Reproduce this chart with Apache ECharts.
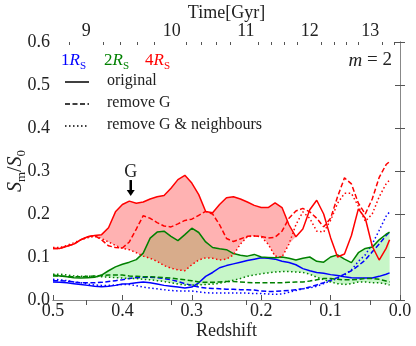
<!DOCTYPE html>
<html>
<head>
<meta charset="utf-8">
<script src="https://cdn.jsdelivr.net/npm/echarts@6/dist/echarts.min.js"></script>
<style>
html, body { margin: 0; padding: 0; background: #fff; }
#chart { width: 416px; height: 346px; }
</style>
</head>
<body>
<div id="chart"></div>
<script>
// redshift grid shared by every curve
const redshift = [0.50, 0.49, 0.48, 0.47, 0.46, 0.45, 0.44, 0.43, 0.42, 0.41,
  0.40, 0.39, 0.38, 0.37, 0.36, 0.35, 0.34, 0.33, 0.32, 0.31,
  0.30, 0.29, 0.28, 0.27, 0.26, 0.25, 0.24, 0.23, 0.22, 0.21,
  0.20, 0.19, 0.18, 0.17, 0.16, 0.15, 0.14, 0.13, 0.12, 0.11,
  0.10, 0.09, 0.08, 0.07, 0.06, 0.05, 0.04, 0.03, 0.02, 0.015]

// 4 R_S
const r4Orig = [.12, .12, .125, .13, .14, .147, .15, .152, .168, .205,
  .222, .23, .225, .228, .235, .24, .243, .26, .28, .29,
  .272, .245, .206, .203, .222, .238, .24, .235, .228, .22,
  .215, .215, .226, .215, .175, .147, .165, .21, .232, .2,
  .145, .1, .107, .15, .212, .19, .125, .093, .12, .14]
const r4NoG = [.12, .12, .125, .13, .14, .147, .15, .14, .126, .122,
  .121, .135, .165, .196, .19, .18, .172, .17, .177, .185,
  .188, .197, .206, .2, .175, .143, .136, .142, .148, .149,
  .148, .144, .146, .16, .19, .207, .213, .205, .19, .17,
  .19, .24, .284, .27, .225, .2, .235, .285, .315, .322]
const r4NoGN = [.122, .122, .127, .133, .14, .145, .148, .143, .135, .127,
  .12, .117, .11, .102, .097, .09, .08, .074, .07, .068,
  .082, .093, .098, .097, .093, .095, .105, .13, .147, .149,
  .147, .13, .102, .1, .13, .175, .205, .19, .16, .158,
  .185, .225, .248, .248, .218, .183, .2, .24, .27, .279]

// 2 R_S
const g2Orig = [.058, .056, .054, .052, .051, .052, .053, .058, .068, .077,
  .083, .088, .094, .109, .144, .158, .16, .148, .138, .152,
  .167, .157, .135, .122, .119, .117, .108, .104, .102, .106,
  .1, .099, .098, .1, .097, .093, .097, .1, .09, .088,
  .1, .105, .095, .087, .11, .12, .123, .14, .153, .158]
const g2NoG = [.056, .056, .055, .054, .054, .055, .056, .057, .058, .058,
  .058, .056, .055, .054, .054, .053, .052, .051, .049, .047,
  .045, .042, .041, .041, .042, .043, .043, .042, .041, .04,
  .04, .04, .04, .04, .041, .042, .042, .044, .047, .05,
  .05, .048, .047, .047, .048, .05, .05, .048, .044, .042]
const g2NoGN = [.06, .06, .058, .056, .055, .055, .055, .054, .053, .052,
  .051, .05, .05, .048, .047, .045, .043, .04, .037, .035,
  .035, .035, .036, .037, .039, .042, .046, .05, .055, .058,
  .061, .063, .065, .066, .066, .065, .064, .06, .053, .047,
  .042, .038, .036, .038, .042, .042, .04, .04, .037, .035]

// 1 R_S
const b1Orig = [.042, .041, .04, .038, .036, .034, .032, .031, .032, .034,
  .037, .038, .04, .042, .04, .037, .034, .032, .03, .028,
  .03, .04, .055, .064, .075, .08, .084, .088, .092, .095,
  .098, .097, .095, .09, .087, .082, .073, .068, .064, .062,
  .059, .057, .054, .052, .051, .051, .051, .055, .06, .063]
const b1NoG = [.045, .045, .044, .042, .04, .04, .04, .041, .043, .045,
  .047, .05, .052, .053, .053, .052, .05, .047, .043, .038,
  .034, .03, .028, .027, .026, .025, .025, .024, .024, .023,
  .021, .02, .02, .021, .022, .024, .026, .03, .035, .04,
  .046, .052, .06, .068, .08, .093, .112, .13, .15, .158]
const b1NoGN = [.048, .047, .045, .042, .04, .037, .035, .034, .034, .035,
  .036, .036, .033, .03, .028, .026, .024, .022, .021, .021,
  .021, .019, .017, .016, .016, .016, .016, .016, .016, .015,
  .015, .014, .013, .014, .018, .022, .026, .028, .032, .038,
  .044, .05, .058, .07, .09, .105, .13, .162, .195, .205]

// top axis: cosmic time in Gyr, placed at redshift
const timeLabels = ['9', '10', '11', '12', '13']
const timeTickZ = [0.452, 0.329, 0.222, 0.130, 0.043]
const timeMinorZ = [0.477, 0.427, 0.403, 0.378, 0.354, 0.308, 0.286, 0.265, 0.244,
  0.204, 0.185, 0.167, 0.148, 0.113, 0.095, 0.078, 0.060, 0.026, 0.009]

const redFillEnd = 0.15  // pink band stops where original crosses the G&neighbours curve
const arrowZ = 0.388

const BLUE = '#0000ff'
const GREEN = '#008000'
const RED = '#ff0000'
const FONT = 'Liberation Serif'
const DASH = [5, 2.5]
const DOT = [1.5, 2.5]

const chart = echarts.init(document.getElementById('chart'))

function pairs(values) {
  return redshift.map((z, i) => [z, values[i]])
}

function lineSeries(values, color, dash) {
  return {
    type: 'line',
    data: pairs(values),
    symbol: 'none',
    z: 5,
    silent: true,
    lineStyle: { color: color, width: 1.5, type: dash }
  }
}

// fill between an upper and lower curve, drawn as one polygon
function bandSeries(upper, lower, color, lastZ) {
  return {
    type: 'custom',
    silent: true,
    z: 2,
    data: [[redshift[0], upper[0]]],
    renderItem: (params, api) => {
      const top = []
      const bottom = []
      redshift.forEach((z, i) => {
        if (z < lastZ - 1e-9) return
        top.push(api.coord([z, upper[i]]))
        bottom.push(api.coord([z, Math.min(lower[i], upper[i])]))
      })
      return {
        type: 'polygon',
        shape: { points: top.concat(bottom.reverse()) },
        style: { fill: color }
      }
    }
  }
}

const tickColor = '#555'
const textColor = '#222'
const spine = { show: true, lineStyle: { color: '#888', width: 1 } }

chart.setOption({
  animation: false,
  grid: { left: 53, right: 16, top: 42, bottom: 46, outerBoundsMode: 'none', containLabel: false },
  textStyle: { fontFamily: FONT },
  xAxis: [
    {
      type: 'value', position: 'bottom', min: 0, max: 0.5, interval: 0.1, inverse: true,
      name: 'Redshift', nameLocation: 'middle', nameGap: 22, nameMoveOverlap: false,
      nameTextStyle: { fontFamily: FONT, fontSize: 18, color: textColor },
      axisLine: spine,
      axisTick: { inside: true, length: 5, lineStyle: { color: tickColor } },
      axisLabel: { margin: 2, fontFamily: FONT, fontSize: 18, color: textColor, formatter: v => v.toFixed(1) },
      splitLine: { show: false }
    },
    {
      type: 'value', position: 'top', min: 0, max: 0.5, inverse: true,
      name: 'Time[Gyr]', nameLocation: 'middle', nameGap: 20, nameMoveOverlap: false,
      nameTextStyle: { fontFamily: FONT, fontSize: 18, color: textColor },
      axisLine: spine,
      axisTick: { inside: true, length: 5, customValues: timeTickZ, lineStyle: { color: tickColor } },
      axisLabel: {
        margin: 2, fontFamily: FONT, fontSize: 18, color: textColor, customValues: timeTickZ,
        formatter: v => {
          const k = timeTickZ.findIndex(t => Math.abs(t - v) < 1e-6)
          return k < 0 ? '' : timeLabels[k]
        }
      },
      splitLine: { show: false }
    },
    {
      type: 'value', position: 'top', min: 0, max: 0.5, inverse: true,
      axisLine: { show: false },
      axisTick: { inside: true, length: 3, customValues: timeMinorZ, lineStyle: { color: tickColor } },
      axisLabel: { show: false },
      splitLine: { show: false }
    }
  ],
  yAxis: [
    {
      type: 'value', min: 0, max: 0.6, interval: 0.1,
      name: '{i|S}{s|m}{n|/}{i|S}{s|0}', nameLocation: 'middle', nameGap: 25, nameRotate: 90,
      nameMoveOverlap: false,
      nameTextStyle: {
        color: textColor,
        rich: {
          i: { fontFamily: FONT, fontStyle: 'italic', fontSize: 20, lineHeight: 24, color: textColor },
          n: { fontFamily: FONT, fontSize: 20, lineHeight: 24, color: textColor },
          s: { fontFamily: FONT, fontSize: 13, lineHeight: 24, verticalAlign: 'bottom', color: textColor }
        }
      },
      axisLine: spine,
      axisTick: { inside: true, length: 5, lineStyle: { color: tickColor } },
      axisLabel: { margin: 3, fontFamily: FONT, fontSize: 18, color: textColor, formatter: v => v.toFixed(1) },
      splitLine: { show: false }
    },
    {
      type: 'value', position: 'right', min: 0, max: 0.6, interval: 0.1,
      axisLine: spine,
      axisTick: { inside: true, length: 5, lineStyle: { color: tickColor } },
      axisLabel: { show: false },
      splitLine: { show: false }
    }
  ],
  series: [
    bandSeries(g2Orig, g2NoGN, 'rgba(144,238,144,0.5)', 0),
    bandSeries(r4Orig, r4NoGN, 'rgba(255,0,0,0.3)', redFillEnd),
    lineSeries(b1Orig, BLUE, 'solid'),
    lineSeries(b1NoG, BLUE, DASH),
    lineSeries(b1NoGN, BLUE, DOT),
    lineSeries(g2Orig, GREEN, 'solid'),
    lineSeries(g2NoG, GREEN, DASH),
    lineSeries(g2NoGN, GREEN, DOT),
    lineSeries(r4Orig, RED, 'solid'),
    lineSeries(r4NoG, RED, DASH),
    lineSeries(r4NoGN, RED, DOT)
  ]
})

// annotations and legend
const rsRich = {
  n: { fontFamily: FONT, fontSize: 17 },
  i: { fontFamily: FONT, fontSize: 17, fontStyle: 'italic' },
  s: { fontFamily: FONT, fontSize: 11, verticalAlign: 'bottom', lineHeight: 22 }
}
function rsLabel(x, num, color) {
  return {
    type: 'text', left: x, top: 52, z: 10,
    style: { text: '{n|' + num + '}{i|R}{s|S}', fill: color, rich: rsRich }
  }
}
function styleRow(y, dash, label) {
  return [
    { type: 'line', z: 10, shape: { x1: 65, y1: y, x2: 89, y2: y },
      style: { stroke: '#000', lineWidth: 1.5, lineDash: dash } },
    { type: 'text', z: 10, left: 107, top: y - 9,
      style: { text: label, fill: textColor, font: '16px "' + FONT + '"' } }
  ]
}

const tip = chart.convertToPixel({ xAxisIndex: 0, yAxisIndex: 0 }, [arrowZ, 0.242])
const tail = chart.convertToPixel({ xAxisIndex: 0, yAxisIndex: 0 }, [arrowZ, 0.279])

chart.setOption({
  graphic: [
    rsLabel(61, '1', BLUE),
    rsLabel(104, '2', GREEN),
    rsLabel(145, '4', RED),
    ...styleRow(82, null, 'original'),
    ...styleRow(104, DASH, 'remove G'),
    ...styleRow(126, DOT, 'remove G & neighbours'),
    {
      type: 'text', right: 24, top: 51, z: 10,
      style: {
        text: '{i|m} = 2', fill: textColor,
        rich: { i: { fontFamily: FONT, fontSize: 19, fontStyle: 'italic' } },
        font: '19px "' + FONT + '"'
      }
    },
    {
      type: 'text', z: 10, x: tail[0], y: tail[1] + 1,
      style: { text: 'G', fill: textColor, font: '18px "' + FONT + '"', align: 'center', verticalAlign: 'bottom' }
    },
    {
      type: 'line', z: 10,
      shape: { x1: tail[0], y1: tail[1], x2: tip[0], y2: tip[1] - 5 },
      style: { stroke: '#000', lineWidth: 2.5 }
    },
    {
      type: 'polygon', z: 10,
      shape: { points: [[tip[0] - 4, tip[1] - 6], [tip[0] + 4, tip[1] - 6], [tip[0], tip[1]]] },
      style: { fill: '#000' }
    }
  ]
})
</script>
</body>
</html>
